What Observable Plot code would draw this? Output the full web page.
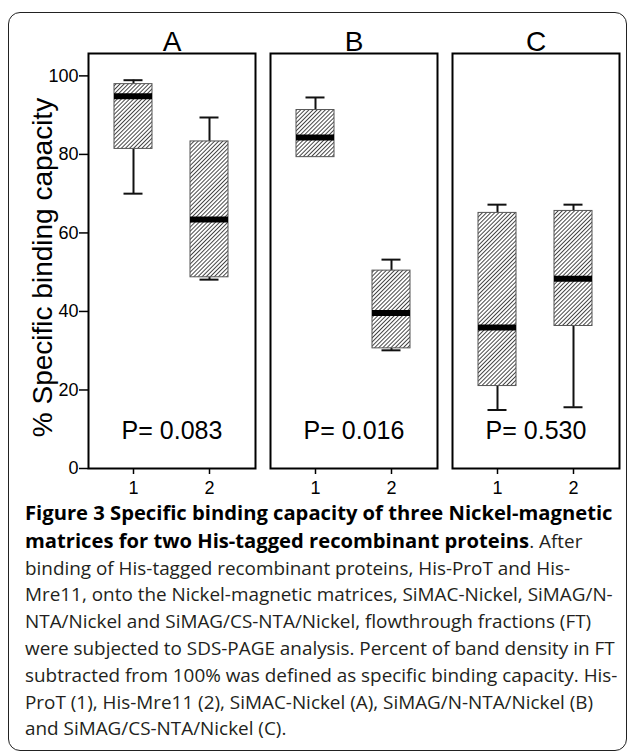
<!DOCTYPE html>
<html><head><meta charset="utf-8">
<script src="https://cdn.jsdelivr.net/npm/d3@7"></script>
<script src="https://cdn.jsdelivr.net/npm/@observablehq/plot@0.6"></script>
<style>
body{margin:0;background:#fff;width:629px;height:751px;overflow:hidden;position:relative;}
#border{position:absolute;left:8px;top:12px;width:617px;height:737px;border:1.5px solid #222;border-radius:12px;}
#chart{position:absolute;left:0;top:0;}
#caption{position:absolute;left:25px;top:499px;font-family:"Open Sans",sans-serif;font-size:18.9px;line-height:26.8px;color:#231f20;white-space:nowrap;}
#caption b{font-weight:700;color:#000;font-size:20.2px}
</style></head><body>
<div id="border"></div>
<div id="chart"></div>
<div id="caption"></div>
<script>
const panels = ["A", "B", "C"];
const groups = ["1", "2"];
const mins    = [70.0, 48.1, 79.3, 30.1, 14.9, 15.6];
const q1s     = [81.4, 48.7, 79.3, 30.6, 21.0, 36.3];
const medians = [94.8, 63.4, 84.3, 39.6, 35.9, 48.3];
const q3s     = [97.9, 83.3, 91.3, 50.4, 65.1, 65.6];
const maxs    = [98.9, 89.4, 94.5, 53.2, 67.2, 67.2];
const pValues = ["P= 0.083", "P= 0.016", "P= 0.530"];
const yTicks = [0, 20, 40, 60, 80, 100];
const yLabel = "% Specific binding capacity";
const captionLines = [
  "<b>Figure 3 Specific binding capacity of three Nickel-magnetic</b>",
  "<b>matrices for two His-tagged recombinant proteins</b>. After",
  "binding of His-tagged recombinant proteins, His-ProT and His-",
  "Mre11, onto the Nickel-magnetic matrices, SiMAC-Nickel, SiMAG/N-",
  "NTA/Nickel and SiMAG/CS-NTA/Nickel, flowthrough fractions (FT)",
  "were subjected to SDS-PAGE analysis. Percent of band density in FT",
  "subtracted from 100% was defined as specific binding capacity. His-",
  "ProT (1), His-Mre11 (2), SiMAC-Nickel (A), SiMAG/N-NTA/Nickel (B)",
  "and SiMAG/CS-NTA/Nickel (C)."
];

const rows = mins.map((m, i) => ({
  panel: panels[Math.floor(i / 2)], group: groups[i % 2],
  min: m, q1: q1s[i], median: medians[i], q3: q3s[i], max: maxs[i]
}));
const pRows = panels.map((p, i) => ({panel: p, text: pValues[i]}));
const labelRows = [{panel: panels[0], text: yLabel}];
const lower = rows.filter(d => d.min < d.q1);
const upper = rows.filter(d => d.max > d.q3);

const plot = Plot.plot({
  width: 629, height: 500,
  marginLeft: 87, marginRight: 9, marginTop: 53, marginBottom: 32,
  style: {fontFamily: "'Liberation Sans', Arial, sans-serif", color: "#000", background: "transparent"},
  fx: {domain: panels, padding: 0.082, label: null},
  x: {domain: groups, paddingInner: 0.496, paddingOuter: 0.333, label: null},
  y: {domain: [0, 105.7], label: null},
  marks: [
    Plot.axisFx({anchor: "top", tickSize: 0, tickPadding: 3, fontSize: 28, label: null}),
    Plot.axisY({ticks: yTicks, tickSize: 9, tickPadding: 1, fontSize: 18, strokeWidth: 1.5, label: null}),
    Plot.axisX({tickSize: 6, tickPadding: 7, fontSize: 18, strokeWidth: 1.5, label: null}),
    Plot.ruleX(lower, {fx: "panel", x: "group", y1: "min", y2: "q1", stroke: "#111", strokeWidth: 2}),
    Plot.ruleX(upper, {fx: "panel", x: "group", y1: "q3", y2: "max", stroke: "#111", strokeWidth: 2}),
    Plot.tickY(lower, {fx: "panel", x: "group", y: "min", stroke: "#111", strokeWidth: 2, insetLeft: 9.5, insetRight: 9.5}),
    Plot.tickY(upper, {fx: "panel", x: "group", y: "max", stroke: "#111", strokeWidth: 2, insetLeft: 9.5, insetRight: 9.5}),
    Plot.barY(rows, {fx: "panel", x: "group", y1: "q1", y2: "q3", fill: "url(#hatch)", stroke: "#555", strokeWidth: 1}),
    Plot.tickY(rows, {fx: "panel", x: "group", y: "median", stroke: "#000", strokeWidth: 6}),
    Plot.text(pRows, {fx: "panel", text: "text", frameAnchor: "bottom", textAnchor: "middle", lineAnchor: "bottom", dy: -29.4, fontSize: 25}),
    Plot.text(labelRows, {fx: "panel", text: "text", frameAnchor: "left", textAnchor: "middle", lineAnchor: "middle", rotate: -90, dx: -45, dy: 6.5, fontSize: 28}),
    Plot.frame({stroke: "#000", strokeWidth: 2})
  ]
});

d3.select(plot).insert("defs", ":first-child").html(
  '<pattern id="hatch" patternUnits="userSpaceOnUse" width="2.9" height="2.9" patternTransform="rotate(45)">' +
  '<rect width="2.9" height="2.9" fill="#fff"/>' +
  '<line x1="1.45" y1="0" x2="1.45" y2="2.9" stroke="#444" stroke-width="1"/></pattern>'
);
document.getElementById("chart").appendChild(plot);
document.getElementById("caption").innerHTML = captionLines.join("<br>");
</script>
</body></html>
